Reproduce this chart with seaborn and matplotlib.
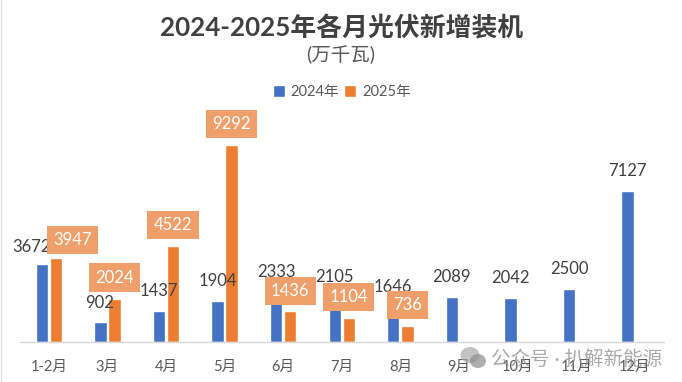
import numpy as np
import pandas as pd
import matplotlib.pyplot as plt
from matplotlib.patches import Ellipse
import seaborn as sns

months = ['1-2月', '3月', '4月', '5月', '6月', '7月', '8月', '9月', '10月', '11月', '12月']
values_2024 = [3672, 902, 1437, 1904, 2333, 2105, 1646, 2089, 2042, 2500, 7127]
values_2025 = [3947, 2024, 4522, 9292, 1436, 1104, 736, np.nan, np.nan, np.nan, np.nan]

# label offsets from the bar top, in pixels
offsets_2024 = [(-10, 17), (-1, 19), (0, 20), (0, 20), (0, 20), (0, 20), (0, 20), (0, 20), (0, 20), (0, 20), (0, 20)]
offsets_2025 = [(17, 18), (0, 21), (0, 21), (0, 21), (0, 20), (0, 21), (0, 21)]

df = pd.DataFrame({'月份': months * 2,
                   '年份': ['2024年'] * 11 + ['2025年'] * 11,
                   '装机': values_2024 + values_2025})

sns.set_theme(style='white')
plt.rcParams['font.family'] = ['Lato', 'Noto Sans CJK SC', 'DejaVu Sans']

W, H = 682, 382
fig = plt.figure(figsize=(W / 100, H / 100), dpi=100, facecolor='white')
ax = fig.add_axes([19.5 / W, (H - 341.5) / H, 644.5 / W, 211.5 / H])

sns.barplot(data=df, x='月份', y='装机', hue='年份', palette=['#4472C4', '#ED7D31'],
            width=0.48, gap=0.12, ax=ax, saturation=1)
ax.set_xlim(-0.5, 10.5)
ax.set_ylim(0, 10000)
ax.set_xlabel('')
ax.set_ylabel('')
ax.set_yticks([])
sns.despine(ax=ax, left=True)
ax.spines['bottom'].set_color('#D9D9D9')
ax.spines['bottom'].set_linewidth(1)
ax.tick_params(axis='x', length=0, pad=13, labelsize=10.5, labelcolor='#595959')

for patch, vals, off in zip(ax.containers[0], values_2024, offsets_2024):
    ax.annotate(str(vals), (patch.get_x() + patch.get_width() / 2, vals), xytext=off,
                textcoords='offset pixels', ha='center', va='center',
                fontsize=12, color='#404040', zorder=5, annotation_clip=False)

for patch, vals, off in zip(ax.containers[1], values_2025[:7], offsets_2025):
    ax.annotate(str(vals), (patch.get_x() + patch.get_width() / 2, vals), xytext=off,
                textcoords='offset pixels', ha='center', va='center',
                fontsize=12, color='white', zorder=6, annotation_clip=False,
                bbox=dict(boxstyle='square,pad=0.38', fc='#EFA06A', ec='none'))

leg = ax.legend(loc='center', bbox_to_anchor=(342 / W, (H - 92) / H), bbox_transform=fig.transFigure,
                ncol=2, frameon=False, title=None, fontsize=10.5, handlelength=0.8, handleheight=0.8,
                handletextpad=0.4, columnspacing=0.35, labelcolor='#595959')

fig.text(341.5 / W, (H - 28) / H, '2024-2025年各月光伏新增装机', ha='center', va='center',
         fontsize=18.6, fontweight='bold', color='#404040')
fig.text(341 / W, (H - 55) / H, '(万千瓦)', ha='center', va='center', fontsize=14, color='#595959')

# watermark
fig.add_artist(Ellipse((470 / W, (H - 355) / H), 19 / W, 16 / H, color='#A8A8A8', alpha=0.7, lw=0))
fig.add_artist(Ellipse((478 / W, (H - 361) / H), 16 / W, 14 / H, color='#8E8E8E', alpha=0.7, lw=0))
fig.text(662 / W, (H - 358) / H, '公众号 · 扒解新能源', ha='right', va='center',
         fontsize=14, color='#8C8C8C', alpha=0.75)

fig.add_artist(plt.Line2D([0.5 / W, 0.5 / W], [0, 1], color='#E4E4E4', lw=1))

plt.savefig('out.png', dpi=100)
